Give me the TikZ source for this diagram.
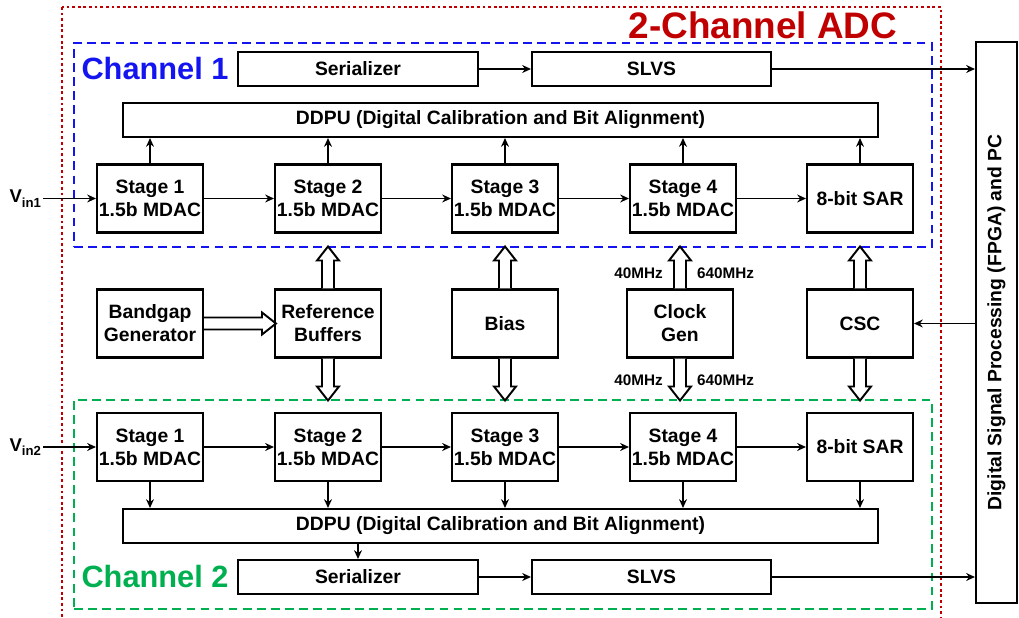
\documentclass[tikz,border=0pt]{standalone}
\usepackage{fontspec}
\setmainfont{Liberation Sans}
\usetikzlibrary{arrows.meta}

\definecolor{chanblue}{RGB}{20,20,240}
\definecolor{changreen}{RGB}{0,176,80}
\definecolor{adcred}{RGB}{192,0,0}

\begin{document}
\begin{tikzpicture}[x=0.02cm, y=-0.02cm,
		font=\bfseries\fontsize{11}{13}\selectfont,
		box/.style={draw, line width=1.15pt, minimum width=2.12cm, minimum height=1.36cm, align=center, inner sep=1pt},
		bar/.style={draw, line width=1.15pt, minimum height=0.68cm, inner sep=1pt},
		chan/.style={line width=1.3pt, dash pattern=on 5pt off 3pt, minimum width=17.16cm},
		sig/.style={line width=1pt, -{Stealth[length=5pt, width=4.5pt]}},
		freq/.style={font=\bfseries\fontsize{8.7}{10}\selectfont, inner sep=1pt},
		pics/fat/.style={code={\draw[line width=1.1pt, fill=white] (0,-6) -- (#1-14,-6) -- (#1-14,-11) -- (#1,0) -- (#1-14,11) -- (#1-14,6) -- (0,6);}}]
		\useasboundingbox (0,0) rectangle (1019,618);
		\draw [adcred, line width=1.3pt, dash pattern=on 1.6pt off 1.6pt] (62,7) rectangle (941,630);
		\node [adcred, font=\bfseries\fontsize{21}{24}\selectfont] (title) at (763,25) {2-Channel ADC};

		\node [chan, draw=chanblue, minimum height=4.08cm] (ch1) at (503,145) {};
		\node [chan, draw=changreen, minimum height=4.18cm] (ch2) at (503,504.5) {};
		\node [chanblue, font=\bfseries\fontsize{17.5}{20}\selectfont] (name1) at (155,69) {Channel 1};
		\node [changreen, font=\bfseries\fontsize{17.5}{20}\selectfont] (name2) at (155,577) {Channel 2};

		% pipeline stages, both channels
		\foreach \i/\x in {1/150, 2/328, 3/505, 4/683} {
			\node [box] (a\i) at (\x,198.5) {Stage \i\\1.5b MDAC};
			\node [box] (b\i) at (\x,447) {Stage \i\\1.5b MDAC};
		}
		\node [box] (a5) at (860,198.5) {8-bit SAR};
		\node [box] (b5) at (860,447) {8-bit SAR};

		\node [bar, minimum width=15.1cm] (ddpu1) at (500.5,120) {DDPU (Digital Calibration and Bit Alignment)};
		\node [bar, minimum width=15.1cm] (ddpu2) at (500.5,526) {DDPU (Digital Calibration and Bit Alignment)};
		\node [bar, minimum width=4.8cm] (ser1) at (358,69) {Serializer};
		\node [bar, minimum width=4.78cm] (slvs1) at (651.5,69) {SLVS};
		\node [bar, minimum width=4.8cm] (ser2) at (358,577) {Serializer};
		\node [bar, minimum width=4.78cm] (slvs2) at (651.5,577) {SLVS};

		\foreach \i/\j in {1/2, 2/3, 3/4, 4/5} {
			\draw [sig] (a\i) -- (a\j);
			\draw [sig] (b\i) -- (b\j);
		}
		\foreach \i in {1,...,5} {
			\draw [sig] (a\i.north) -- (a\i.north |- ddpu1.south);
			\draw [sig] (b\i.south) -- (b\i.south |- ddpu2.north);
		}
		\draw [sig] (ser1) -- (slvs1);
		\draw [sig] (ser2) -- (slvs2);
		\draw [sig] (ser2.north |- ddpu2.south) -- (ser2.north);

		% shared blocks
		\node [box] (bg) at (150,323.5) {Bandgap\\Generator};
		\node [box] (ref) at (328,323.5) {Reference\\Buffers};
		\node [box] (bias) at (505,323.5) {Bias};
		\node [box] (clk) at (680,323.5) {Clock\\Gen};
		\node [box] (csc) at (860,323.5) {CSC};
		\foreach \n in {ref, bias, clk, csc} {
			\pic [rotate=90] at (\n.north) {fat=42};
			\pic [rotate=-90] at (\n.south) {fat=42};
		}
		\pic at (bg.east) {fat=72};

		\node [freq, anchor=east] (f1) at (665,273) {40MHz};
		\node [freq, anchor=west] (f2) at (695,273) {640MHz};
		\node [freq, anchor=east] (f3) at (665,380) {40MHz};
		\node [freq, anchor=west] (f4) at (695,380) {640MHz};

		% inputs
		\node [font=\bfseries\fontsize{10.5}{12}\selectfont, anchor=east, inner sep=1pt] (vin1) at (43,198.5) {V\raisebox{-0.45ex}{\fontsize{7.5}{8}\selectfont in1}};
		\node [font=\bfseries\fontsize{10.5}{12}\selectfont, anchor=east, inner sep=1pt] (vin2) at (43,447) {V\raisebox{-0.45ex}{\fontsize{7.5}{8}\selectfont in2}};
		\draw [sig] (vin1.east) -- (a1.west);
		\draw [sig] (vin2.east) -- (b1.west);

		% back end
		\node [draw, line width=1.15pt, minimum width=0.82cm, minimum height=11.22cm] (dsp) at (996.5,322.5) {};
		\node [rotate=90] (dsptext) at (dsp.center) {Digital Signal Processing (FPGA) and PC};
		\draw [sig] (slvs1) -- (slvs1 -| dsp.west);
		\draw [sig] (slvs2) -- (slvs2 -| dsp.west);
		\draw [sig] (dsp.west |- csc) -- (csc);
	\end{tikzpicture}
\end{document}
